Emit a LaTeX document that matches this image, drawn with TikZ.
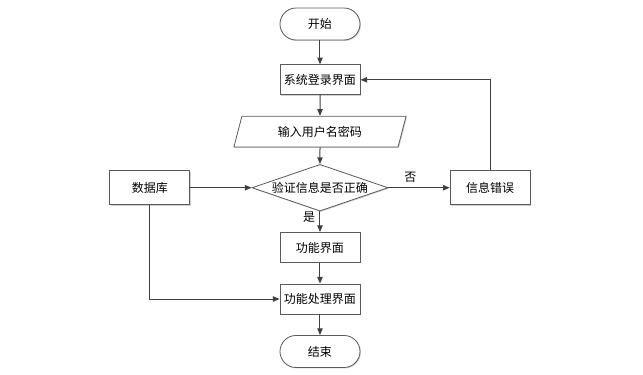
\documentclass[tikz,border=0pt]{standalone}
\usepackage{fontspec}
\newfontfamily\cjk{Noto Sans CJK SC}
\usetikzlibrary{positioning,shapes.geometric,arrows.meta,shadows}
\definecolor{linecol}{HTML}{404040}
\definecolor{boxcol}{HTML}{5A5A5A}

\begin{document}
\begin{tikzpicture}[node distance=15.5pt, >={Triangle[length=5pt,width=4pt]},
  every node/.style={font=\cjk\fontsize{9}{11}\selectfont, text=black},
  base/.style={draw=boxcol, line width=0.6pt, fill=white, inner sep=0pt,
    drop shadow={shadow xshift=0.7pt, shadow yshift=-0.7pt, fill=black!30, opacity=0.6}},
  term/.style={base, rectangle, rounded corners=12pt, minimum width=60pt, minimum height=24pt},
  proc/.style={base, rectangle, minimum width=60pt, minimum height=22.5pt},
  side/.style={base, rectangle, minimum width=60pt, minimum height=25.5pt},
  io/.style={base, trapezium, trapezium left angle=69, trapezium right angle=111,
    trapezium stretches=true, minimum width=130pt, minimum height=23pt},
  check/.style={base, diamond, aspect=2.9, minimum width=102pt, minimum height=35pt},
  flow/.style={->, draw=linecol, line width=0.75pt}]

  \useasboundingbox (-240pt,18pt) rectangle (242.25pt,-263.25pt);

  \node[term] (start) {开始};
  \node[proc, below=18pt of start] (login) {系统登录界面};
  \node[io, below=of login] (input) {输入用户名密码};
  \node[check, below=12.5pt of input] (verify) {验证信息是否正确};
  \node[proc, below=of verify] (func) {功能界面};
  \node[proc, below=of func] (handle) {功能处理界面};
  \node[term, below=of handle] (stop) {结束};
  \node[side, left=46pt of verify] (db) {数据库};
  \node[side, right=46pt of verify] (err) {信息错误};

  \draw[flow] (start) -- (login);
  \draw[flow] (login) -- (input);
  \draw[flow] (input) -- (verify);
  \draw[flow] (verify) -- (func) node[pos=0.3, left] {是};
  \draw[flow] (func) -- (handle);
  \draw[flow] (handle) -- (stop);
  \draw[flow] (verify) -- (err) node[pos=0.36, above] {否};
  \draw[flow] (db) -- (verify);
  \draw[flow] (db) |- (handle);
  \draw[flow] (err) |- (login);
\end{tikzpicture}
\end{document}
